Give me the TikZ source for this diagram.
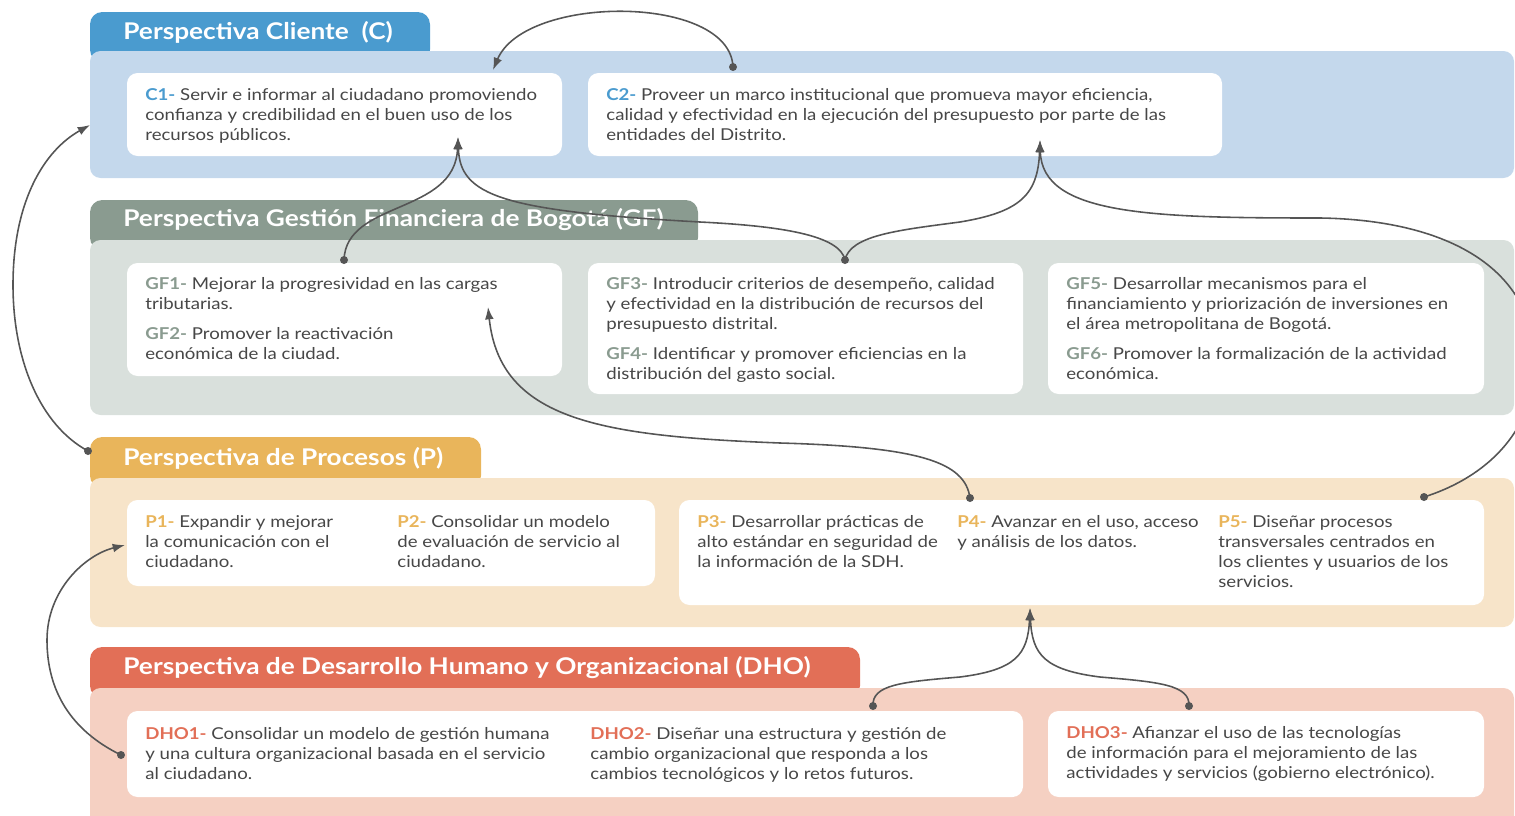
\documentclass[tikz,border=0pt]{standalone}
\usepackage{fontspec}
\setmainfont[FakeStretch=1.14]{Lato}
\usetikzlibrary{arrows.meta}
\definecolor{cblue}{HTML}{4A9BCF}
\definecolor{cbluelt}{HTML}{C4D8EC}
\definecolor{gfgreen}{HTML}{8A9B90}
\definecolor{gfgreenlt}{HTML}{D9E0DC}
\definecolor{porange}{HTML}{E9B55B}
\definecolor{porangelt}{HTML}{F7E4C9}
\definecolor{dhored}{HTML}{E26F57}
\definecolor{dhoredlt}{HTML}{F5D0C2}
\definecolor{ink}{HTML}{474747}
\definecolor{linkgray}{HTML}{555555}
\tikzset{>={Latex[length=7pt,width=5pt]}}
\newcommand\lbl[2]{{\bfseries\color{#1}#2}}

\begin{document}
\begin{tikzpicture}[x=0.02cm,y=-0.02cm,
    tab/.style={rounded corners=7pt},
    band/.style={rounded corners=6pt},
    card/.style={fill=white,rounded corners=6pt},
    txt/.style={anchor=north west,align=left,inner sep=0pt,text=ink,
      font=\fontsize{9.3}{11.4}\selectfont},
    ttl/.style={anchor=west,inner sep=0pt,text=white,
      font=\fontsize{13.1}{14}\selectfont\bfseries},
    link/.style={draw=linkgray,line width=0.9pt},
    dot/.style={fill=linkgray}
  ]
  \useasboundingbox (0,0) rectangle (1515,815);
  \clip (0,0) rectangle (1515,815);

  % CLIENTE
  \fill[tab,cblue] (90,12) rectangle (430,62);
  \fill[band,cbluelt] (90,51) rectangle (1514,178);
  \node[ttl] (tC) at (123,32) {Perspectiva Cliente\ \ (C)};
  \fill[card] (127,73) rectangle (562,156);
  \fill[card] (588,73) rectangle (1222,156);
  \node[txt] (c1) at (145,88) {\lbl{cblue}{C1-} Servir e informar al ciudadano promoviendo\\
    confianza y credibilidad en el buen uso de los\\recursos públicos.};
  \node[txt] (c2) at (606,88) {\lbl{cblue}{C2-} Proveer un marco institucional que promueva mayor eficiencia,\\
    calidad y efectividad en la ejecución del presupuesto por parte de las\\entidades del Distrito.};

  % GESTION FINANCIERA
  \fill[tab,gfgreen] (90,200) rectangle (698,250);
  \fill[band,gfgreenlt] (90,240) rectangle (1514,415);
  \node[ttl] (tGF) at (123,220) {Perspectiva Gestión Financiera de Bogotá (GF)};
  \fill[card] (127,263) rectangle (562,376);
  \fill[card] (588,263) rectangle (1023,394);
  \fill[card] (1048,263) rectangle (1484,394);
  \node[txt] (gf1) at (145,277) {\lbl{gfgreen}{GF1-} Mejorar la progresividad en las cargas\\tributarias.};
  \node[txt] (gf2) at (145,327) {\lbl{gfgreen}{GF2-} Promover la reactivación\\económica de la ciudad.};
  \node[txt] (gf3) at (606,277) {\lbl{gfgreen}{GF3-} Introducir criterios de desempeño, calidad\\
    y efectividad en la distribución de recursos del\\presupuesto distrital.};
  \node[txt] (gf4) at (606,347) {\lbl{gfgreen}{GF4-} Identificar y promover eficiencias en la\\distribución del gasto social.};
  \node[txt] (gf5) at (1066,277) {\lbl{gfgreen}{GF5-} Desarrollar mecanismos para el\\
    financiamiento y priorización de inversiones en\\el área metropolitana de Bogotá.};
  \node[txt] (gf6) at (1066,347) {\lbl{gfgreen}{GF6-} Promover la formalización de la actividad\\económica.};

  % PROCESOS
  \fill[tab,porange] (90,437) rectangle (481,488);
  \fill[band,porangelt] (90,478) rectangle (1514,627);
  \node[ttl] (tP) at (123,458) {Perspectiva de Procesos (P)};
  \fill[card] (127,500) rectangle (655,586);
  \fill[card] (679,500) rectangle (1484,605);
  \node[txt] (p1) at (145,515) {\lbl{porange}{P1-} Expandir y mejorar\\la comunicación con el\\ciudadano.};
  \node[txt] (p2) at (397,515) {\lbl{porange}{P2-} Consolidar un modelo\\de evaluación de servicio al\\ciudadano.};
  \node[txt] (p3) at (697,515) {\lbl{porange}{P3-} Desarrollar prácticas de\\alto estándar en seguridad de\\la información de la SDH.};
  \node[txt] (p4) at (957,515) {\lbl{porange}{P4-} Avanzar en el uso, acceso\\y análisis de los datos.};
  \node[txt] (p5) at (1218,515) {\lbl{porange}{P5-} Diseñar procesos\\transversales centrados en\\
    los clientes y usuarios de los\\servicios.};

  % DESARROLLO HUMANO
  \fill[tab,dhored] (90,647) rectangle (860,698);
  \fill[band,dhoredlt] (90,688) rectangle (1514,840);
  \node[ttl] (tDHO) at (123,668) {Perspectiva de Desarrollo Humano y Organizacional (DHO)};
  \fill[card] (127,711) rectangle (1023,797);
  \fill[card] (1048,711) rectangle (1484,797);
  \node[txt] (dho1) at (145,727) {\lbl{dhored}{DHO1-} Consolidar un modelo de gestión humana\\
    y una cultura organizacional basada en el servicio\\al ciudadano.};
  \node[txt] (dho2) at (590,727) {\lbl{dhored}{DHO2-} Diseñar una estructura y gestión de\\
    cambio organizacional que responda a los\\cambios tecnológicos y lo retos futuros.};
  \node[txt] (dho3) at (1066,726) {\lbl{dhored}{DHO3-} Afianzar el uso de las tecnologías\\
    de información para el mejoramiento de las\\actividades y servicios (gobierno electrónico).};

  % LINK ENDS
  \coordinate (c2dot) at (733,67);
  \coordinate (c1top) at (493,70);
  \coordinate (c1in) at (458,137);
  \coordinate (c2in) at (1040,140);
  \coordinate (gf1dot) at (344,260);
  \coordinate (gf3dot) at (845,260);
  \coordinate (gf1in) at (488,307);
  \coordinate (p4dot) at (970,498);
  \coordinate (p5dot) at (1424,497);
  \coordinate (ptab) at (88,451);
  \coordinate (cband) at (90,125);
  \coordinate (dho1dot) at (121,755);
  \coordinate (p1in) at (125,545);
  \coordinate (dho2dot) at (873,706);
  \coordinate (dho3dot) at (1189,706);
  \coordinate (pin) at (1030,608);

  % LINKS
  \draw[link,->] (c2dot) .. controls (730,-6) and (525,-6) .. (c1top);
  \draw[link,->] (gf1dot) .. controls (346,200) and (455,215) .. (c1in);
  \draw[link,->] (gf3dot) .. controls (840,235) and (780,226) .. (700,222)
    .. controls (500,211) and (460,195) .. (c1in);
  \draw[link,->] (gf3dot) .. controls (850,235) and (900,230) .. (960,222)
    .. controls (1020,212) and (1038,195) .. (c2in);
  \draw[link,->] (p5dot) .. controls (1478,480) and (1530,440) .. (1535,370)
    .. controls (1538,270) and (1450,220) .. (1320,218)
    .. controls (1150,218) and (1042,215) .. (c2in);
  \draw[link,->] (p4dot) .. controls (965,462) and (920,447) .. (780,443)
    .. controls (600,436) and (500,420) .. (gf1in);
  \draw[link,->] (ptab) .. controls (40,425) and (13,360) .. (13,285)
    .. controls (13,200) and (45,150) .. (cband);
  \draw[link,->] (dho1dot) .. controls (70,730) and (47,690) .. (47,640)
    .. controls (47,590) and (85,555) .. (p1in);
  \draw[link,->] (dho2dot) .. controls (872,685) and (900,682) .. (960,677)
    .. controls (1015,670) and (1028,655) .. (pin);
  \draw[link,->] (dho3dot) .. controls (1190,685) and (1160,682) .. (1100,677)
    .. controls (1045,670) and (1032,655) .. (pin);

  % DOTS
  \foreach \d in {c2dot,gf1dot,gf3dot,p4dot,p5dot,ptab,dho1dot,dho2dot,dho3dot}
    \fill[dot] (\d) circle (4);

\end{tikzpicture}
\end{document}
